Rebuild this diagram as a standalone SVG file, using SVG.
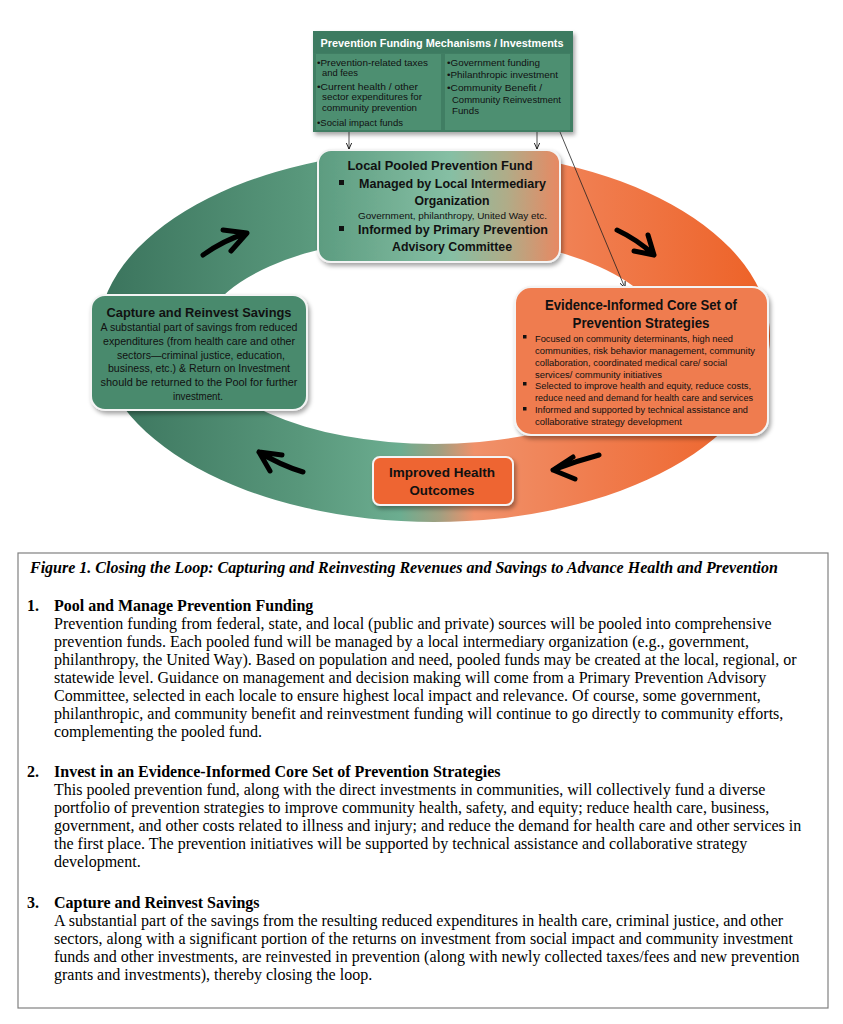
<svg xmlns="http://www.w3.org/2000/svg" width="843" height="1024" viewBox="0 0 843 1024">
<defs>
<linearGradient id="ringG" gradientUnits="userSpaceOnUse" x1="98" y1="0" x2="770" y2="0">
<stop offset="0" stop-color="#3a735c"/>
<stop offset="0.3" stop-color="#58977b"/>
<stop offset="0.45" stop-color="#6cad90"/>
<stop offset="0.51" stop-color="#a39f80"/>
<stop offset="0.56" stop-color="#f0916a"/>
<stop offset="0.75" stop-color="#f07b4c"/>
<stop offset="1" stop-color="#ed6126"/>
</linearGradient>
<linearGradient id="poolG" gradientUnits="userSpaceOnUse" x1="318" y1="0" x2="560" y2="0">
<stop offset="0" stop-color="#5c9c80"/>
<stop offset="0.55" stop-color="#86bfa4"/>
<stop offset="0.78" stop-color="#b0ac88"/>
<stop offset="1" stop-color="#e88862"/>
</linearGradient>
<filter id="sh" x="-10%" y="-10%" width="125%" height="130%">
<feDropShadow dx="2" dy="3" stdDeviation="2" flood-color="#000" flood-opacity="0.35"/>
</filter>
<marker id="ah" viewBox="0 0 10 10" refX="9" refY="5" markerWidth="7" markerHeight="7" orient="auto" markerUnits="userSpaceOnUse">
<path d="M0,1 L9,5 L0,9" fill="none" stroke="#000" stroke-width="1.2"/>
</marker>
<style>
.box{stroke:#f4f4f4;stroke-width:2;filter:url(#sh);}
.sb{font-family:"Liberation Sans",Arial,sans-serif;font-weight:bold;fill:#111;}
.s{font-family:"Liberation Sans",Arial,sans-serif;fill:#111;}
.ser{font-family:"Liberation Serif","Times New Roman",serif;font-size:16px;fill:#000;}
.serb{font-family:"Liberation Serif","Times New Roman",serif;font-size:16px;font-weight:bold;fill:#000;}
.blk{fill:none;stroke:#000;stroke-width:5;stroke-linecap:round;stroke-linejoin:round;}
.conn{fill:none;stroke:#222;stroke-width:0.8;}
</style>
</defs>
<rect width="843" height="1024" fill="#fff"/>

<g id="ring">
<path fill="url(#ringG)" fill-rule="evenodd" d="M98,336 A336,186 0 1 0 770,336 A336,186 0 1 0 98,336 Z M201,340 A233,104 0 1 0 667,340 A233,104 0 1 0 201,340 Z"/>
</g>

<g id="cycle-arrows">
<path class="blk" d="M203,255 Q224,240 247,233 M223,230 L247,233 L231,251"/>
<path class="blk" d="M617,230 Q638,240 654,255 M648,235 L654,255 L634,251"/>
<path class="blk" d="M599,455 Q576,461 553,470 M573,457 L553,470 L575,479"/>
<path class="blk" d="M303,472 Q280,465 259,452 M282,455 L259,452 L270,471"/>
</g>

<g id="funding-mechanisms">
<rect x="313" y="31" width="260" height="101" fill="#3f7e64" filter="url(#sh)"/>
<rect x="313" y="31" width="260" height="22" fill="#3d7b61"/>
<rect x="316" y="54" width="125" height="76" fill="#4d8f71"/>
<rect x="445" y="54" width="125" height="76" fill="#4d8f71"/>
<text x="442" y="47" class="sb" font-size="11.5" style="fill:#fff" text-anchor="middle" textLength="243" lengthAdjust="spacingAndGlyphs">Prevention Funding Mechanisms / Investments</text>
<g class="s" font-size="9.8">
<text x="317" y="65.5" textLength="111" lengthAdjust="spacingAndGlyphs">•Prevention-related  taxes</text>
<text x="322" y="76" textLength="36" lengthAdjust="spacingAndGlyphs">and fees</text>
<text x="317" y="89.5" textLength="101" lengthAdjust="spacingAndGlyphs">•Current health / other</text>
<text x="322" y="100" textLength="100" lengthAdjust="spacingAndGlyphs">sector expenditures  for</text>
<text x="322" y="111" textLength="95" lengthAdjust="spacingAndGlyphs">community prevention</text>
<text x="317" y="125.5" textLength="86" lengthAdjust="spacingAndGlyphs">•Social impact funds</text>
<text x="447" y="65.5" textLength="93" lengthAdjust="spacingAndGlyphs">•Government funding</text>
<text x="447" y="78" textLength="111" lengthAdjust="spacingAndGlyphs">•Philanthropic  investment</text>
<text x="447" y="91" textLength="95" lengthAdjust="spacingAndGlyphs">•Community  Benefit  /</text>
<text x="452" y="103" textLength="109" lengthAdjust="spacingAndGlyphs">Community  Reinvestment</text>
<text x="452" y="114" textLength="27" lengthAdjust="spacingAndGlyphs">Funds</text>
</g>
</g>

<g id="connectors">
<line class="conn" x1="349" y1="132" x2="349" y2="149" marker-end="url(#ah)"/>
<line class="conn" x1="537" y1="132" x2="537" y2="149" marker-end="url(#ah)"/>
<line class="conn" x1="560" y1="132" x2="625" y2="288" marker-end="url(#ah)"/>
</g>

<g id="pooled-fund">
<rect class="box" x="318" y="150" width="242" height="112" rx="13" fill="url(#poolG)"/>
<text x="440" y="170" class="sb" font-size="13" text-anchor="middle" textLength="185" lengthAdjust="spacingAndGlyphs">Local Pooled Prevention Fund</text>
<rect x="339" y="180" width="5" height="5" fill="#111"/>
<text x="359" y="188" class="sb" font-size="13" textLength="187" lengthAdjust="spacingAndGlyphs">Managed by Local Intermediary</text>
<text x="452" y="205" class="sb" font-size="13" text-anchor="middle" textLength="75" lengthAdjust="spacingAndGlyphs">Organization</text>
<text x="358" y="219" class="s" font-size="9" textLength="189" lengthAdjust="spacingAndGlyphs">Government,  philanthropy,  United Way etc.</text>
<rect x="339" y="226" width="5" height="5" fill="#111"/>
<text x="358" y="234" class="sb" font-size="13" textLength="190" lengthAdjust="spacingAndGlyphs">Informed by Primary Prevention</text>
<text x="452" y="251" class="sb" font-size="13" text-anchor="middle" textLength="120" lengthAdjust="spacingAndGlyphs">Advisory Committee</text>
</g>

<g id="core-strategies">
<rect class="box" x="515" y="287" width="253" height="148" rx="16" fill="#ef7c4f"/>
<text x="641" y="310" class="sb" font-size="14" text-anchor="middle" textLength="192" lengthAdjust="spacingAndGlyphs">Evidence-Informed Core Set of</text>
<text x="641" y="328" class="sb" font-size="14" text-anchor="middle" textLength="137" lengthAdjust="spacingAndGlyphs">Prevention Strategies</text>
<g class="s" font-size="9.6">
<rect x="523" y="335" width="3.5" height="3.5" fill="#111"/>
<text x="535" y="341.5" textLength="198" lengthAdjust="spacingAndGlyphs">Focused on community determinants, high need</text>
<text x="535" y="354" textLength="220" lengthAdjust="spacingAndGlyphs">communities, risk behavior management, community</text>
<text x="535" y="365.5" textLength="192" lengthAdjust="spacingAndGlyphs">collaboration, coordinated medical care/ social</text>
<text x="535" y="377.5" textLength="127" lengthAdjust="spacingAndGlyphs">services/ community initiatives</text>
<rect x="523" y="382" width="3.5" height="3.5" fill="#111"/>
<text x="535" y="388.5" textLength="216" lengthAdjust="spacingAndGlyphs">Selected to improve health and equity, reduce costs,</text>
<text x="535" y="401" textLength="218" lengthAdjust="spacingAndGlyphs">reduce need and demand for health care and services</text>
<rect x="523" y="407" width="3.5" height="3.5" fill="#111"/>
<text x="535" y="413" textLength="213" lengthAdjust="spacingAndGlyphs">Informed and supported by technical assistance and</text>
<text x="535" y="425" textLength="147" lengthAdjust="spacingAndGlyphs">collaborative strategy development</text>
</g>
</g>

<g id="capture-savings">
<rect class="box" x="91" y="295" width="216" height="115" rx="14" fill="#4a8a6d"/>
<text x="199" y="316.5" class="sb" font-size="13.5" text-anchor="middle" textLength="185" lengthAdjust="spacingAndGlyphs">Capture and Reinvest Savings</text>
<g class="s" font-size="10.5" text-anchor="middle">
<text x="199" y="331" textLength="197" lengthAdjust="spacingAndGlyphs">A substantial part of savings from reduced</text>
<text x="199" y="345" textLength="192" lengthAdjust="spacingAndGlyphs">expenditures (from health care and other</text>
<text x="201" y="358.5" textLength="168" lengthAdjust="spacingAndGlyphs">sectors—criminal justice, education,</text>
<text x="199" y="372" textLength="182" lengthAdjust="spacingAndGlyphs">business, etc.) &amp; Return on Investment</text>
<text x="199" y="386" textLength="197" lengthAdjust="spacingAndGlyphs">should be returned to the  Pool for further</text>
<text x="198" y="399.5" textLength="50" lengthAdjust="spacingAndGlyphs">investment.</text>
</g>
</g>

<g id="health-outcomes">
<rect class="box" x="373" y="457" width="140" height="48" rx="7" fill="#ee6530"/>
<text x="442" y="477" class="sb" font-size="13.5" text-anchor="middle" textLength="106" lengthAdjust="spacingAndGlyphs">Improved Health</text>
<text x="442" y="495" class="sb" font-size="13.5" text-anchor="middle" textLength="65" lengthAdjust="spacingAndGlyphs">Outcomes</text>
</g>

<g id="caption-box">
<rect x="18" y="553" width="810" height="455" fill="#fff" stroke="#808080" stroke-width="1.2"/>
<text x="30" y="573" class="serb" font-style="italic">Figure 1. Closing the Loop: Capturing and Reinvesting Revenues and Savings to Advance Health and Prevention</text>
<text x="27" y="611" class="serb">1.</text>
<text x="54" y="611" class="serb">Pool and Manage Prevention Funding</text>
<text x="54" y="629" class="ser">Prevention funding from federal, state, and local (public and private) sources will be pooled into comprehensive</text>
<text x="54" y="647" class="ser">prevention funds. Each pooled fund will be managed by a local intermediary organization (e.g., government,</text>
<text x="54" y="665" class="ser">philanthropy, the United Way). Based on population and need, pooled funds may be created at the local, regional, or</text>
<text x="54" y="683" class="ser">statewide level. Guidance on management and decision making will come from a Primary Prevention Advisory</text>
<text x="54" y="701" class="ser">Committee, selected in each locale to ensure highest local impact and relevance. Of course, some government,</text>
<text x="54" y="719" class="ser">philanthropic, and community benefit and reinvestment funding will continue to go directly to community efforts,</text>
<text x="54" y="737" class="ser">complementing the pooled fund.</text>
<text x="27" y="777" class="serb">2.</text>
<text x="54" y="777" class="serb">Invest in an Evidence-Informed Core Set of Prevention Strategies</text>
<text x="54" y="795" class="ser">This pooled prevention fund, along with the direct investments in communities, will collectively fund a diverse</text>
<text x="54" y="813" class="ser">portfolio of prevention strategies to improve community health, safety, and equity; reduce health care, business,</text>
<text x="54" y="831" class="ser">government, and other costs related to illness and injury; and reduce the demand for health care and other services in</text>
<text x="54" y="849" class="ser">the first place. The prevention initiatives will be supported by technical assistance and collaborative strategy</text>
<text x="54" y="867" class="ser">development.</text>
<text x="27" y="908" class="serb">3.</text>
<text x="54" y="908" class="serb">Capture and Reinvest Savings</text>
<text x="54" y="926" class="ser">A substantial part of the savings from the resulting reduced expenditures in health care, criminal justice, and other</text>
<text x="54" y="944" class="ser">sectors, along with a significant portion of the returns on investment from social impact and community investment</text>
<text x="54" y="962" class="ser">funds and other investments, are reinvested in prevention (along with newly collected taxes/fees and new prevention</text>
<text x="54" y="980" class="ser">grants and investments), thereby closing the loop.</text>
</g>
</svg>
